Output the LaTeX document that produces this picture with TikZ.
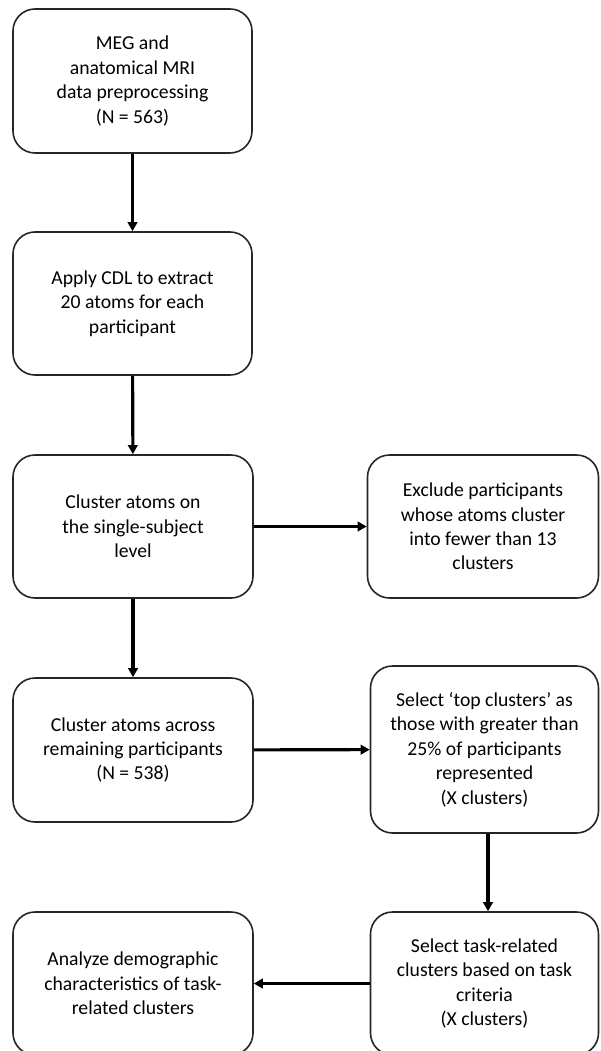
\documentclass[tikz,border=0pt]{standalone}
\usepackage{fontspec}
\setmainfont{Carlito}
\usetikzlibrary{arrows.meta}
\begin{document}
\begin{tikzpicture}[x=1pt,y=-1pt,
  box/.style={draw=black!85, line width=1.6pt, rounded corners=22pt, align=center,
    inner sep=0pt, font=\fontsize{19.7}{24.4}\selectfont},
  conn/.style={line width=3.1pt, -{Triangle[length=9pt,width=9.5pt]}}]
\useasboundingbox (0,0) rectangle (600,1051);
\clip (0,0) rectangle (600,1051);
\fill[white] (0,0) rectangle (600,1051);
\node[box, minimum width=239pt, minimum height=144pt] (b1) at (132.5,81)
  {MEG and\\anatomical MRI\\data preprocessing\\(N = 563)};
\node[box, minimum width=239pt, minimum height=143pt] (b2) at (132.5,303.5)
  {Apply CDL to extract\\20 atoms for each\\participant};
\node[box, minimum width=240pt, minimum height=143pt] (b3) at (133,526.5)
  {Cluster atoms on\\the single-subject\\level};
\node[box, minimum width=231pt, minimum height=143pt] (ex) at (483,526.5)
  {Exclude participants\\whose atoms cluster\\into fewer than 13\\clusters};
\node[box, minimum width=240pt, minimum height=144pt] (b4) at (133,750)
  {Cluster atoms across\\remaining participants\\(N = 538)};
\node[box, minimum width=228pt, minimum height=167pt] (top) at (484.5,749.5)
  {Select ‘top clusters’ as\\those with greater than\\25\% of participants\\represented\\(X clusters)};
\node[box, minimum width=228pt, minimum height=143pt] (task) at (484.5,983.5)
  {Select task-related\\clusters based on task\\criteria\\(X clusters)};
\node[box, minimum width=240pt, minimum height=143pt] (ana) at (133,983.5)
  {Analyze demographic\\characteristics of task-\\related clusters};
\draw[conn] (b1) -- (b2);
\draw[conn] (b2) -- (b3);
\draw[conn] (b3) -- (ex);
\draw[conn] (b3) -- (b4);
\draw[conn] (b4) -- (top);
\draw[conn] ([xshift=3.5pt]top.south) -- ([xshift=3.5pt]task.north);
\draw[conn] (task) -- (ana);
\end{tikzpicture}
\end{document}
